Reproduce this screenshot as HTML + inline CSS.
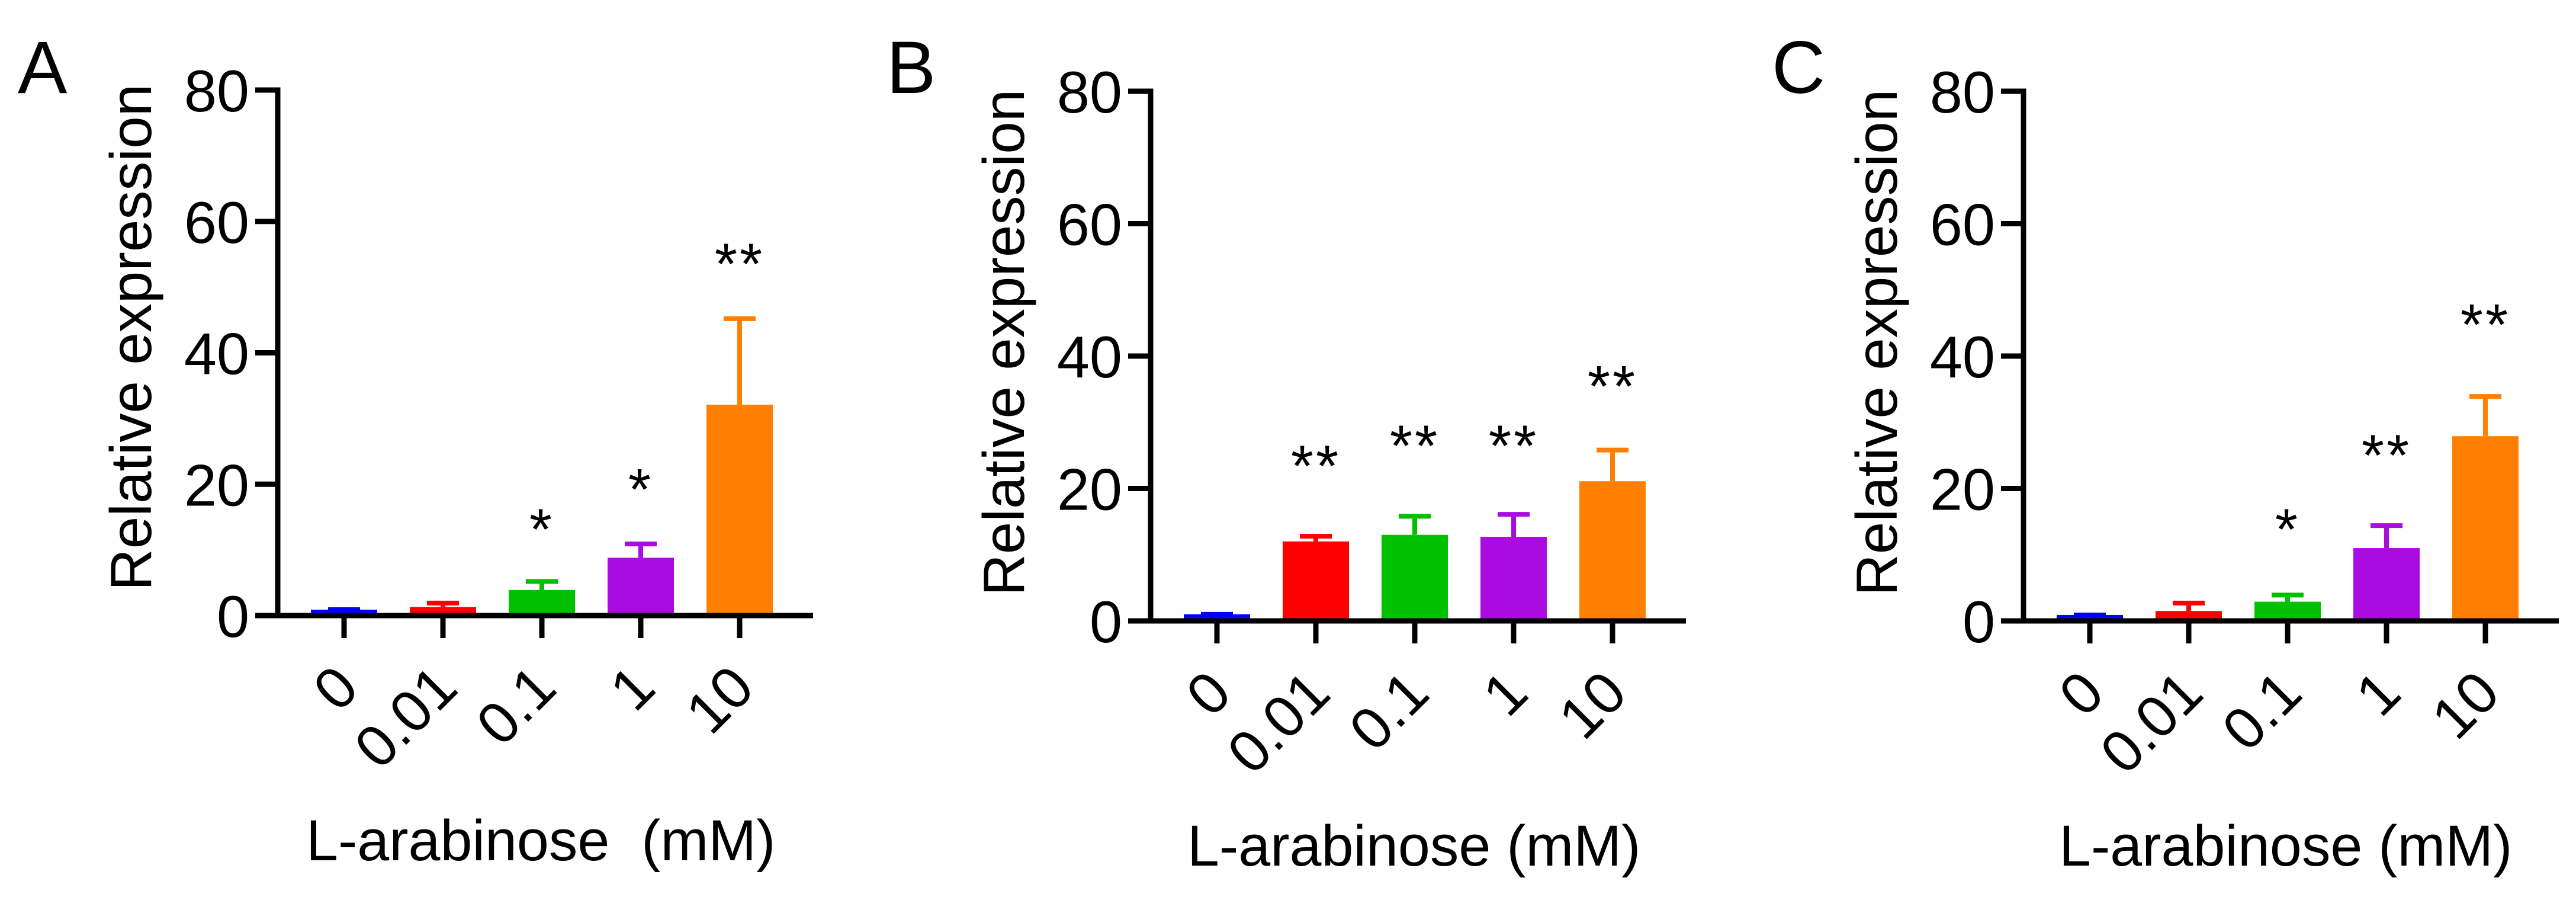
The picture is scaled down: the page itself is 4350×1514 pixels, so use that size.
<!DOCTYPE html>
<html><head><meta charset="utf-8"><style>
html,body{margin:0;padding:0;background:#fff;}
svg{display:block;font-family:"Liberation Sans",Arial,sans-serif;}
</style></head><body>
<svg id="fig" width="4350" height="1514" viewBox="0 0 4350 1514" xmlns="http://www.w3.org/2000/svg"></svg>
<script>
const categories = ["0","0.01","0.1","1","10"];
const colors = ["#0000ff","#ff0000","#00c000","#aa0bdf","#ff8000"];
const yTicks = [0,20,40,60,80];
const meanA = [0.9,1.3,3.9,8.8,32.1];
const errA  = [0.9,1.9,5.2,10.9,45.2];
const starA = ["","","*","*","**"];
const starPosA = [0,0,13.3,19.4,53.7];
const meanB = [1.0,12.0,13.0,12.7,21.1];
const errB  = [1.0,12.8,15.8,16.1,25.8];
const starB = ["","**","**","**","**"];
const starPosB = [0,23.6,26.6,26.6,35.6];
const meanC = [0.9,1.5,2.9,11.0,27.9];
const errC  = [0.9,2.7,3.9,14.4,33.9];
const starC = ["","","*","**","**"];
const starPosC = [0,0,14.0,25.2,44.9];

const NS="http://www.w3.org/2000/svg";
const svg=document.getElementById('fig');
function mk(tag,attrs,parent){const e=document.createElementNS(NS,tag);for(const k in attrs)e.setAttribute(k,attrs[k]);(parent||svg).appendChild(e);return e;}

function panel(id,letter,letterX,axisX,y0,y80,mean,err,stars,starPos,title,titleX){
  const g=mk('g',{});
  
  
  const yS=v=>y0+(y80-y0)*v/80;
  const step=167;
  const xS=i=>axisX+112+i*step;
  const lt=mk('text',{x:letterX,y:157,'font-size':125,fill:'#000'},g);lt.textContent=letter;
  
  
  mean.forEach((v,i)=>{
    const cx=xS(i),bw=112;
    const r=mk('rect',{x:cx-bw/2,y:yS(v),width:bw,height:y0-yS(v),fill:colors[i]},g);
    
    
    const e=mk('path',{d:`M${cx},${yS(v)}V${yS(err[i])}M${cx-27},${yS(err[i])}H${cx+27}`,stroke:colors[i],'stroke-width':8,fill:'none'},g);
    
    
    if(stars[i]){
      const s=mk('text',{x:cx,y:yS(starPos[i])+36,'font-size':98,'text-anchor':'middle',fill:'#000','letter-spacing':'4'},g);
      s.textContent=stars[i];
      
      
    }
    const t=mk('line',{x1:cx,x2:cx,y1:y0,y2:y0+38,stroke:'#000','stroke-width':9},g);
    
    
    const lx=cx+29,ly=y0+127;
    const l=mk('text',{x:lx,y:ly,'font-size':99,'text-anchor':'end',fill:'#000',transform:`rotate(-45 ${lx} ${ly})`},g);
    l.textContent=categories[i];
    
    
  });
  const ya=mk('line',{x1:axisX,x2:axisX,y1:y80-4.5,y2:y0+4.5,stroke:'#000','stroke-width':9},g);
  
  
  const xa=mk('line',{x1:axisX-38,x2:xS(4)+124,y1:y0,y2:y0,stroke:'#000','stroke-width':9},g);
  
  
  yTicks.forEach(v=>{
    const t=mk('line',{x1:axisX-38,x2:axisX,y1:yS(v),y2:yS(v),stroke:'#000','stroke-width':9},g);
    
    
    const l=mk('text',{x:axisX-48,y:yS(v)+36,'font-size':99,'text-anchor':'end',fill:'#000'},g);
    l.textContent=v;
    
    
  });
  const yl=mk('text',{x:axisX-214,y:y0-42,'font-size':98,fill:'#000',transform:`rotate(-90 ${axisX-214} ${y0-42})`},g);
  yl.textContent='Relative expression';
  
  
  const xt=mk('text',{x:titleX,y:y0+413,'font-size':97,fill:'#000'},g);
  xt.textContent=title;
  xt.style.whiteSpace='pre';
  
  
}
panel('a','A',30,469,1039,152,meanA,errA,starA,starPosA,'L-arabinose  (mM)',517);
panel('b','B',1497,1943,1048,154,meanB,errB,starB,starPosB,'L-arabinose (mM)',2005);
panel('c','C',2992,3417,1048,154,meanC,errC,starC,starPosC,'L-arabinose (mM)',3477);
</script>
</body></html>
